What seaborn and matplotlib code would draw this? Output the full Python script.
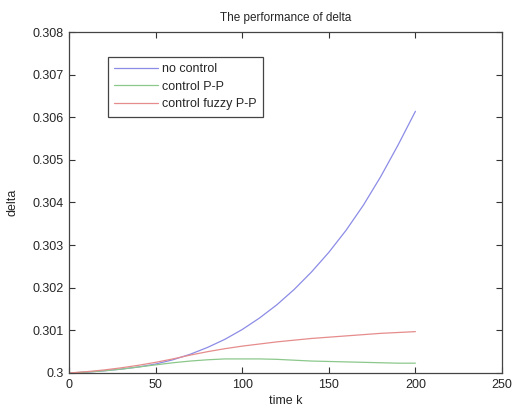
import numpy as np
import pandas as pd
import matplotlib
matplotlib.use('Agg')
import matplotlib.pyplot as plt
import seaborn as sns

time_k = [0, 10, 20, 30, 40, 50, 60, 70, 80, 90, 100,
          110, 120, 130, 140, 150, 160, 170, 180, 190, 200]
no_control = [0.30000, 0.30002, 0.30005, 0.30009, 0.30014, 0.30021, 0.30031,
              0.30044, 0.30060, 0.30079, 0.30102, 0.30129, 0.30160, 0.30196,
              0.30237, 0.30283, 0.30335, 0.30394, 0.30461, 0.30535, 0.30614]
control_pp = [0.30000, 0.30002, 0.30005, 0.30009, 0.30014, 0.30019, 0.30024,
              0.30028, 0.30031, 0.30033, 0.30033, 0.30033, 0.30032, 0.30030,
              0.30028, 0.30027, 0.30026, 0.30025, 0.30024, 0.30023, 0.30023]
control_fuzzy = [0.30000, 0.30003, 0.30007, 0.30012, 0.30018, 0.30025, 0.30033,
                 0.30042, 0.30050, 0.30057, 0.30063, 0.30068, 0.30073, 0.30077,
                 0.30081, 0.30084, 0.30087, 0.30090, 0.30093, 0.30095, 0.30097]
labels = ['no control', 'control P-P', 'control fuzzy P-P']
colors = ['#8c8ce6', '#8cc88c', '#e68c8c']

df = pd.DataFrame({
    'time k': time_k * 3,
    'delta': no_control + control_pp + control_fuzzy,
    'series': [labels[0]] * len(time_k) + [labels[1]] * len(time_k) + [labels[2]] * len(time_k),
})

sns.set_style('ticks')
plt.rcParams['font.family'] = ['Liberation Sans', 'DejaVu Sans']

fig = plt.figure(figsize=(5.12, 4.12), dpi=100)
ax = fig.add_axes([0.1348, 0.0947, 0.8457, 0.8276])

sns.lineplot(data=df, x='time k', y='delta', hue='series', palette=colors,
             linewidth=0.9, ax=ax)

ax.set_xlim(0, 250)
ax.set_ylim(0.3, 0.308)
ax.set_xticks([0, 50, 100, 150, 200, 250])
ax.set_yticks(np.arange(0.3, 0.3085, 0.001))
ax.set_yticklabels(['0.3', '0.301', '0.302', '0.303', '0.304',
                    '0.305', '0.306', '0.307', '0.308'])
ax.tick_params(which='major', direction='in', length=4, width=0.8, color='#333333',
               labelsize=9, bottom=True, left=True, top=True, right=True, pad=4)
for s in ax.spines.values():
    s.set_visible(True)
    s.set_color('#444444')
    s.set_linewidth(0.9)

ax.set_title('The performance of delta', fontsize=8.5, pad=8)
ax.set_xlabel('time k', fontsize=9, labelpad=3)
ax.set_ylabel('delta', fontsize=9, labelpad=10)

leg = ax.legend(loc='upper left', bbox_to_anchor=(0.09, 0.927), fontsize=9,
                frameon=True, fancybox=False, framealpha=1, edgecolor='#444444',
                handlelength=3.5, handletextpad=0.35, labelspacing=0.45,
                borderpad=0.5, borderaxespad=0)
leg.get_frame().set_linewidth(0.9)

fig.savefig('out.png', dpi=100)
